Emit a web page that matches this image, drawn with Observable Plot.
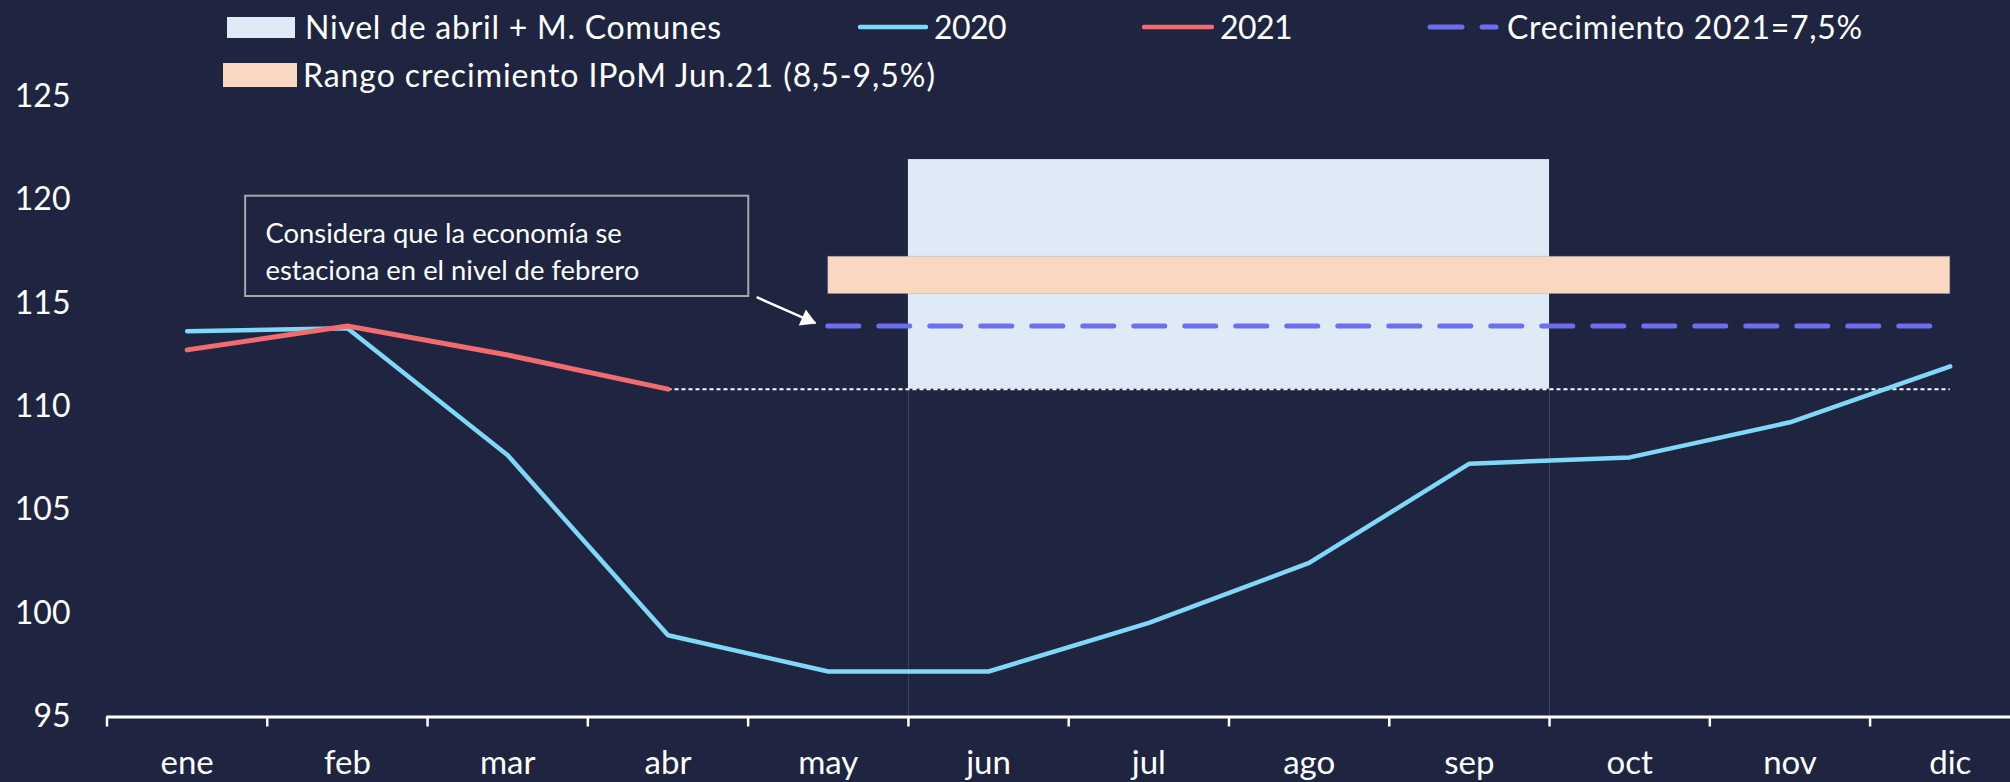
<!DOCTYPE html>
<html><head><meta charset="utf-8">
<script src="https://cdn.jsdelivr.net/npm/d3@7"></script>
<script src="https://cdn.jsdelivr.net/npm/@observablehq/plot@0.6"></script>
<style>
html,body{margin:0;padding:0;background:#1f2540;overflow:hidden;width:2010px;height:782px}
#legend{position:relative;height:84px;width:2010px;font-family:Lato,sans-serif;font-size:32px;color:#fff}
.li{position:absolute;display:flex;align-items:center;white-space:nowrap;height:36px;line-height:36px}
.li svg{display:block}
#chart svg{display:block}
</style></head><body>
<div id="legend"></div><div id="chart"></div>
<script>
// ---- data ----
const months = ["ene","feb","mar","abr","may","jun","jul","ago","sep","oct","nov","dic"];
const values2020 = [113.65, 113.8, 107.65, 98.95, 97.2, 97.2, 99.55, 102.45, 107.25, 107.55, 109.25, 111.95];
const values2021 = [112.75, 113.9, 112.5, 110.85];
const yTicks = [95, 100, 105, 110, 115, 120, 125];
const aprilLevel = 110.85;          // nivel de abril 2021
const commonTop = 121.95;           // nivel de abril + M. Comunes
const growthLevel = 113.9;          // Crecimiento 2021 = 7,5%
const ipomRange = [115.45, 117.25]; // Rango IPoM Jun.21 (8,5-9,5%)
const legendLabels = ["Nivel de abril + M. Comunes", "2020", "2021", "Crecimiento 2021=7,5%", "Rango crecimiento IPoM Jun.21 (8,5-9,5%)"];
const legendTextWidths = [417, 72, 72, 356, 633];
const noteText = "Considera que la economía se\nestaciona en el nivel de febrero";
const noteBox = [{x1: 0.365, x2: 3.504, y1: 115.33, y2: 120.18}];
const noteLabel = [{x: 0.489, y: 119.16, text: noteText}];
const noteArrow = [{x1: 3.553, y1: 115.30, x2: 3.92, y2: 114.04}];

// ---- colours ----
const C = {bg:"#1f2540", c2020:"#7fd8f7", c2021:"#f26b6e", dash:"#6b6ff0", common:"#deebf7", ipom:"#fad7c0"};

const iMay = months.indexOf("may"), iAbr = months.indexOf("abr"), iDic = months.indexOf("dic");
const iJun = months.indexOf("jun"), iSep = months.indexOf("sep");
const s2020 = values2020.map((v, i) => ({i, v}));
const s2021 = values2021.map((v, i) => ({i, v}));
const commonRect = [{x1: iJun - 0.5, x2: iSep + 0.5, y1: aprilLevel, y2: commonTop}];
const ipomRect = [{x1: iMay, x2: iDic, y1: ipomRange[0], y2: ipomRange[1]}];
const growthLine = [{x1: iMay, x2: iDic, y: growthLevel}];
const aprilLine = [{x1: iAbr, x2: iDic, y: aprilLevel}];
const bounds = months.slice(0, 11).map((m, i) => i + 0.5).concat([-0.5]);

// ---- legend ----
const lg = document.getElementById("legend");
function item(left, top, swatchHTML, gap, k) {
  const d = document.createElement("div");
  d.className = "li"; d.style.left = left + "px"; d.style.top = top + "px";
  d.innerHTML = swatchHTML + `<span style="margin-left:${gap}px">${legendLabels[k]}</span>`;
  lg.appendChild(d);
  const sp = d.querySelector("span");
  const w = sp.getBoundingClientRect().width;
  const n = legendLabels[k].length;
  if (w > 0) sp.style.letterSpacing = ((legendTextWidths[k] - w) / n).toFixed(2) + "px";
}
item(227, 9, `<svg width="68" height="21"><rect width="68" height="21" fill="${C.common}"/></svg>`, 10, 0);
item(858, 9, `<svg width="70" height="8"><line x1="2" x2="68" y1="4" y2="4" stroke="${C.c2020}" stroke-width="4.5" stroke-linecap="round"/></svg>`, 6, 1);
item(1142, 9, `<svg width="72" height="8"><line x1="2" x2="70" y1="4" y2="4" stroke="${C.c2021}" stroke-width="4.5" stroke-linecap="round"/></svg>`, 6, 2);
item(1427, 9, `<svg width="72" height="8"><line x1="3" x2="35" y1="4" y2="4" stroke="${C.dash}" stroke-width="5" stroke-linecap="round"/><line x1="55" x2="69" y1="4" y2="4" stroke="${C.dash}" stroke-width="5" stroke-linecap="round"/></svg>`, 8, 3);
item(223, 57, `<svg width="74" height="24"><rect width="74" height="24" fill="${C.ipom}"/></svg>`, 6, 4);

// ---- chart ----
const chart = Plot.plot({
  width: 2010, height: 698,
  marginTop: 12, marginBottom: 65.5, marginLeft: 106.5, marginRight: 0,
  x: {domain: [-0.5, 11.5], range: [106.5, 2029.9], axis: null},
  y: {domain: [95, 125], axis: null},
  style: {background: "transparent", color: "#fff", fontFamily: "Lato, sans-serif", overflow: "visible"},
  marks: [
    Plot.rect(commonRect, {x1: "x1", x2: "x2", y1: "y1", y2: "y2", fill: C.common}),
    Plot.ruleX(commonRect.flatMap(r => [r.x1, r.x2]), {x: d => d, y1: 95, y2: aprilLevel, stroke: "#fff", strokeOpacity: 0.14, strokeWidth: 1}),
    Plot.rect(ipomRect, {x1: "x1", x2: "x2", y1: "y1", y2: "y2", fill: C.ipom, stroke: "#9a9a9a", strokeOpacity: 0.35, strokeWidth: 1}),
    Plot.ruleY(aprilLine, {x1: "x1", x2: "x2", y: "y", stroke: "#fff", strokeWidth: 2, strokeDasharray: "4,3"}),
    Plot.ruleY(growthLine, {x1: "x1", x2: "x2", y: "y", stroke: C.dash, strokeWidth: 5, strokeDasharray: "31,20", strokeLinecap: "round"}),
    Plot.line(s2020, {x: "i", y: "v", stroke: C.c2020, strokeWidth: 4.5, strokeLinejoin: "miter"}),
    Plot.line(s2021, {x: "i", y: "v", stroke: C.c2021, strokeWidth: 5, strokeLinejoin: "miter"}),
    Plot.rect(noteBox, {x1: "x1", x2: "x2", y1: "y1", y2: "y2", fill: "none", stroke: "#a8a8a8", strokeWidth: 2}),
    Plot.text(noteLabel, {x: "x", y: "y", text: "text", textAnchor: "start", lineAnchor: "top", lineHeight: 1.34, fontSize: 27.4, fill: "#fff"}),
    Plot.link(noteArrow, {x1: "x1", y1: "y1", x2: "x2", y2: "y2", stroke: "#fff", strokeWidth: 2.5}),
    Plot.dot(noteArrow, {x: "x2", y: "y2", symbol: "triangle", r: 6.5, fill: "#fff", stroke: "none", rotate: 113.7, dx: -8.5, dy: -3.7}),
    Plot.ruleY([95], {stroke: "#fff", strokeWidth: 3}),
    Plot.axisX({ticks: bounds, tickSize: 10, tickFormat: () => "", stroke: "#fff", strokeWidth: 2.5}),
    Plot.axisX({ticks: months.map((m, i) => i), tickSize: 0, tickPadding: 34, tickFormat: i => months[i], fontSize: 33, fill: "#fff"}),
    Plot.axisY({ticks: yTicks, tickSize: 0, tickPadding: 36.5, fontSize: 32, fill: "#fff"})
  ]
});
document.getElementById("chart").appendChild(chart);
</script>
</body></html>
